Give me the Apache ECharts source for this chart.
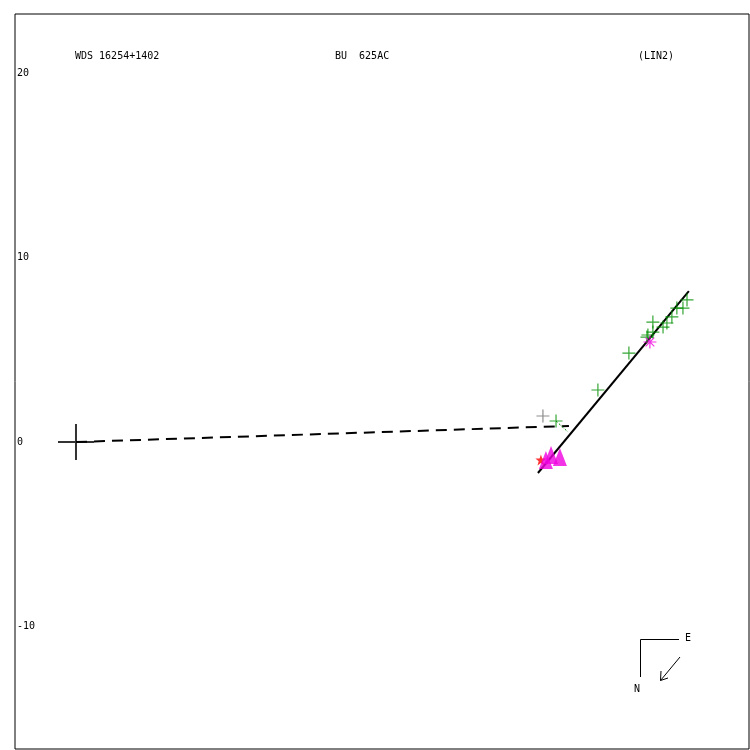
<!DOCTYPE html>
<html>
<head>
<meta charset="utf-8">
<script src="https://cdn.jsdelivr.net/npm/echarts@6/dist/echarts.min.js"></script>
<style>html,body{margin:0;padding:0;background:#fff;}#chart{width:750px;height:750px;}</style>
</head>
<body>
<div id="chart"></div>
<script>
// ---- data (arcsec) ----
const titleTexts = ['WDS 16254+1402', 'BU  625AC', '(LIN2)'];
const yTickLabels = [20, 10, 0, -10];
const primary = [[0, 0]];
const fitLine = [[25.04, -1.68], [33.22, 8.18]];
const dashedLine = [[0, 0], [26.72, 0.87]];
const obsGreen = [[33.12, 7.70], [32.90, 7.26], [32.57, 7.26], [32.30, 6.78], [32.03, 6.45], [31.82, 6.23],
  [31.27, 6.50], [31.27, 5.96], [31.00, 5.80], [30.95, 5.69], [29.97, 4.82], [28.29, 2.82], [26.02, 1.14]];
const residual = [[26.02, 1.14], [26.67, 0.54]];
const obsGrey = [[25.31, 1.41]];
const obsAsterisk = [[31.11, 5.42]];
const obsTriangles = [[25.75, -0.70], [26.23, -0.81], [25.47, -0.98]];
const obsRed = [[25.20, -0.98]];

const mono = '"DejaVu Sans Mono", monospace';
const plusPath = 'path://M6,0V12M0,6H12';
const chart = echarts.init(document.getElementById('chart'), null, {renderer: 'canvas'});
chart.setOption({
  animation: false,
  backgroundColor: '#fff',
  grid: {left: 15, top: 14, width: 734, height: 735, show: true, borderColor: '#000', borderWidth: 1, backgroundColor: 'transparent'},
  xAxis: {type: 'value', min: -3.306, max: 36.48, show: false},
  yAxis: {
    type: 'value', min: -16.64, max: 23.2,
    axisLine: {show: false}, axisTick: {show: false}, splitLine: {show: false},
    axisLabel: {inside: true, margin: 2, customValues: yTickLabels, color: '#000', fontFamily: mono, fontSize: 10, padding: [4, 0, 0, 0]}
  },
  series: [
    {type: 'line', data: dashedLine, symbol: 'none', lineStyle: {color: '#000', width: 2, type: [11, 7]}, z: 2},
    {type: 'line', data: fitLine, symbol: 'none', lineStyle: {color: '#000', width: 2}, z: 3},
    {type: 'line', data: residual, symbol: 'none', lineStyle: {color: '#009000', width: 1, type: [2, 2]}, z: 3},
    {type: 'scatter', data: primary, symbol: 'path://M18,0V36M0,18H36', symbolSize: 36,
      itemStyle: {color: 'transparent', borderColor: '#000', borderWidth: 2}, z: 5},
    {type: 'scatter', data: obsRed, symbol: 'path://M5,0L6.2,3.5L10,3.6L7,6L8.1,10L5,7.6L1.9,10L3,6L0,3.6L3.8,3.5Z', symbolSize: 11,
      itemStyle: {color: '#ff0000'}, z: 4},
    {type: 'scatter', data: obsTriangles, symbol: 'triangle', symbolSize: [14, 18], itemStyle: {color: '#f000e0'}, z: 5},
    {type: 'scatter', data: obsGreen, symbol: plusPath, symbolSize: 13,
      itemStyle: {color: 'transparent', borderColor: '#009000', borderWidth: 1.2}, z: 6},
    {type: 'scatter', data: obsGrey, symbol: plusPath, symbolSize: 13,
      itemStyle: {color: 'transparent', borderColor: '#707070', borderWidth: 1.2}, z: 6},
    {type: 'scatter', data: obsAsterisk, symbol: 'path://M6,0V12M0,6H12M2,2L10,10M2,10L10,2', symbolSize: 13,
      itemStyle: {color: 'transparent', borderColor: '#f000e0', borderWidth: 1.2}, z: 7}
  ],
  graphic: [
    {type: 'text', left: 75, top: 51, style: {text: titleTexts[0], font: '10px ' + mono, fill: '#000'}},
    {type: 'text', left: 335, top: 51, style: {text: titleTexts[1], font: '10px ' + mono, fill: '#000'}},
    {type: 'text', left: 638, top: 51, style: {text: titleTexts[2], font: '10px ' + mono, fill: '#000'}},
    {type: 'polyline', shape: {points: [[640.5, 677], [640.5, 639.5], [679, 639.5]]}, style: {stroke: '#000', lineWidth: 1, fill: null}},
    {type: 'text', left: 685, top: 633, style: {text: 'E', font: '10px ' + mono, fill: '#000'}},
    {type: 'text', left: 634, top: 684, style: {text: 'N', font: '10px ' + mono, fill: '#000'}},
    {type: 'polyline', shape: {points: [[680, 657], [660.5, 680.5]]}, style: {stroke: '#000', lineWidth: 1, fill: null}},
    {type: 'polyline', shape: {points: [[661, 671], [660.5, 680.5], [668, 678]]}, style: {stroke: '#000', lineWidth: 1, fill: null}}
  ]
});
</script>
</body>
</html>
